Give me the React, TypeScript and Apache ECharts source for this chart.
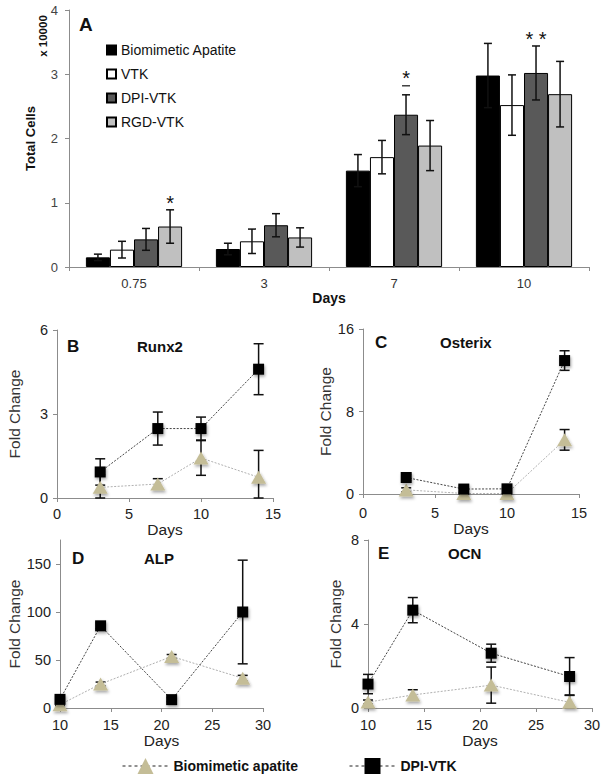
import React, { useEffect, useRef } from 'react';
import * as echarts from 'echarts';

const FONT = '"Liberation Sans", Arial, Helvetica, sans-serif';

// ---------- Panel A data ----------
const cellDays = ['0.75', '3', '7', '10'];
const barNames = ['Biomimetic Apatite', 'VTK', 'DPI-VTK', 'RGD-VTK'];
const cellsBA = [0.15, 0.28, 1.5, 2.98];
const cellsBAErr = [0.05, 0.09, 0.25, 0.5];
const cellsVTK = [0.27, 0.4, 1.71, 2.52];
const cellsVTKErr = [0.13, 0.19, 0.26, 0.47];
const cellsDPI = [0.43, 0.65, 2.37, 3.02];
const cellsDPIErr = [0.17, 0.18, 0.31, 0.42];
const cellsRGD = [0.63, 0.46, 1.89, 2.69];
const cellsRGDErr = [0.26, 0.15, 0.39, 0.51];
const cellsTicks = [0, 1, 2, 3, 4];
// significance marks: [category index, bar index, text, underline]
const sigMarks: [number, number, string, boolean][] = [
  [0, 3, '*', false],
  [2, 2, '*', true],
  [3, 2, '* *', false],
];

// ---------- qPCR data ----------
const daysEarly = [3, 7, 10, 14];
const daysLate = [10, 14, 21, 28];

const runx2DPI = [0.93, 2.48, 2.48, 4.6];
const runx2DPIErr = [0.47, 0.59, 0.41, 0.91];
const runx2BA = [0.38, 0.5, 1.43, 0.74];
const runx2BAErr = [0.45, 0.19, 0.62, 0.96];

const osxDPI = [1.6, 0.48, 0.5, 12.94];
const osxDPIErr = [0.3, 0.3, 0.2, 0.95];
const osxBA = [0.4, 0.05, 0.05, 5.25];
const osxBAErr = [0.2, 0.05, 0.05, 1.0];

const alpDPI = [9, 85.6, 8.7, 100];
const alpDPIErr = [3, 3, 2, 54];
const alpBA = [3.5, 25, 53.7, 31];
const alpBAErr = [1, 2, 2, 3];
const alpTicks = [0, 50, 100, 150];

const ocnDPI = [1.14, 4.66, 2.61, 1.5];
const ocnDPIErr = [0.46, 0.6, 0.43, 0.9];
const ocnBA = [0.28, 0.62, 1.09, 0.27];
const ocnBAErr = [0.1, 0.25, 0.86, 0.35];

const lineNames = ['Biomimetic apatite', 'DPI-VTK (qPCR)'];

// ---------- layout / style ----------
const barColors = ['#000000', '#ffffff', '#595959', '#c0c0c0'];
const grids = [
  { left: 69, top: 10, width: 520, height: 257 },
  { left: 57, top: 330, width: 216, height: 168 },
  { left: 363, top: 329, width: 216, height: 165 },
  { left: 60, top: 540, width: 203, height: 168 },
  { left: 368, top: 540, width: 224, height: 168 },
];

const panels = [
  { days: daysEarly, dpi: runx2DPI, dpiErr: runx2DPIErr, ba: runx2BA, baErr: runx2BAErr,
    x: [0, 15, 5], y: [0, 6, 3], yTicks: null as number[] | null, yGap: 35, xGap: 15, xMargin: 8,
    letter: 'B', gene: 'Runx2', lx: 67, gx: 137, ty: 346 },
  { days: daysEarly, dpi: osxDPI, dpiErr: osxDPIErr, ba: osxBA, baErr: osxBAErr,
    x: [0, 15, 5], y: [0, 16, 8], yTicks: null, yGap: 30, xGap: 21, xMargin: 11,
    letter: 'C', gene: 'Osterix', lx: 375, gx: 440, ty: 342.5 },
  { days: daysLate, dpi: alpDPI, dpiErr: alpDPIErr, ba: alpBA, baErr: alpBAErr,
    x: [10, 30, 5], y: [0, 175, 50], yTicks: alpTicks, yGap: 38, xGap: 23, xMargin: 9,
    letter: 'D', gene: 'ALP', lx: 72, gx: 144, ty: 558 },
  { days: daysLate, dpi: ocnDPI, dpiErr: ocnDPIErr, ba: ocnBA, baErr: ocnBAErr,
    x: [10, 30, 5], y: [0, 8, 4], yTicks: null, yGap: 25, xGap: 21, xMargin: 9,
    letter: 'E', gene: 'OCN', lx: 378, gx: 448, ty: 553 },
];

const AXIS_GRAY = '#8c8c8c';

function buildOption() {
  const cellVals = [cellsBA, cellsVTK, cellsDPI, cellsRGD];
  const cellErrs = [cellsBAErr, cellsVTKErr, cellsDPIErr, cellsRGDErr];

  const xAxis: any[] = [
    {
      type: 'category', gridIndex: 0, data: cellDays,
      axisLine: { lineStyle: { color: AXIS_GRAY, width: 1 } },
      axisTick: { show: true, alignWithLabel: false, length: 4, lineStyle: { color: AXIS_GRAY } },
      axisLabel: { color: '#333', fontSize: 13, fontFamily: FONT, margin: 10 },
      name: 'Days', nameLocation: 'middle', nameGap: 19,
      nameTextStyle: { fontWeight: 'bold', fontSize: 14, color: '#111', fontFamily: FONT },
    },
  ];
  const yAxis: any[] = [
    {
      type: 'value', gridIndex: 0, min: cellsTicks[0], max: cellsTicks[cellsTicks.length - 1], interval: 1,
      axisLine: { show: true, lineStyle: { color: AXIS_GRAY } },
      axisTick: { show: true, length: 4, lineStyle: { color: AXIS_GRAY } },
      splitLine: { show: false },
      axisLabel: { color: '#444', fontSize: 13, fontFamily: FONT, margin: 11 },
      name: 'Total Cells', nameLocation: 'middle', nameGap: 32,
      nameTextStyle: { fontWeight: 'bold', fontSize: 13, color: '#111', fontFamily: FONT },
    },
  ];

  const series: any[] = [];
  barNames.forEach((n, i) => {
    series.push({
      type: 'bar', name: n, xAxisIndex: 0, yAxisIndex: 0,
      data: cellVals[i], barWidth: '18.5%', barGap: '0%',
      itemStyle: { color: barColors[i], borderColor: '#000', borderWidth: 1 },
      z: 2,
    });
  });

  const errData: number[][] = [];
  barNames.forEach((_, i) => {
    cellDays.forEach((_, j) => errData.push([j, cellVals[i][j], cellErrs[i][j], i]));
  });

  series.push({
    type: 'custom', xAxisIndex: 0, yAxisIndex: 0, z: 5,
    data: errData,
    renderItem: (params: any, api: any) => {
      const cat = api.value(0), v = api.value(1), e = api.value(2), bi = api.value(3);
      const band = api.size([1, 0])[0];
      const bw = band * 0.185;
      const c = api.coord([cat, v]);
      const x = c[0] + (bi - 1.5) * bw;
      const yt = api.coord([cat, v + e])[1];
      const yb = api.coord([cat, Math.max(0, v - e)])[1];
      const st = { stroke: '#111', lineWidth: 1.5 };
      const children: any[] = [
        { type: 'line', shape: { x1: x, y1: yt, x2: x, y2: yb }, style: st },
        { type: 'line', shape: { x1: x - 4, y1: yt, x2: x + 4, y2: yt }, style: st },
        { type: 'line', shape: { x1: x - 4, y1: yb, x2: x + 4, y2: yb }, style: st },
      ];
      sigMarks.forEach(([sc, sb, txt, under]) => {
        if (sc === cat && sb === bi) {
          const ty = under ? yt - 17 : yt - 7;
          children.push({
            type: 'text',
            style: { text: txt, x, y: ty, textAlign: 'center', textVerticalAlign: 'middle',
              fontSize: 20, fontFamily: FONT, fill: '#111' },
          });
          if (under) {
            children.push({ type: 'line', shape: { x1: x - 4, y1: yt - 9, x2: x + 4, y2: yt - 9 }, style: { stroke: '#111', lineWidth: 1.2 } });
          }
        }
      });
      return { type: 'group', children };
    },
  });

  const graphic: any[] = [
    { type: 'text', x: 79, y: 24.5, style: { text: 'A', fontSize: 19, fontWeight: 'bold', fontFamily: FONT, fill: '#111', textVerticalAlign: 'middle' } },
    { type: 'text', x: 43, y: 36, rotation: Math.PI / 2, style: { text: 'x 10000', fontSize: 11.5, fontWeight: 'bold', fontFamily: FONT, fill: '#111', textAlign: 'center', textVerticalAlign: 'middle' } },
  ];

  panels.forEach((p, k) => {
    const gi = k + 1;
    xAxis.push({
      type: 'value', gridIndex: gi, min: p.x[0], max: p.x[1], interval: p.x[2],
      axisLine: { show: true, onZero: false, lineStyle: { color: AXIS_GRAY } },
      axisTick: { show: true, length: 4, lineStyle: { color: AXIS_GRAY } },
      splitLine: { show: false },
      axisLabel: { color: '#222', fontSize: 14.5, fontFamily: FONT, margin: p.xMargin },
      name: 'Days', nameLocation: 'middle', nameGap: p.xGap,
      nameTextStyle: { fontSize: 15.5, color: '#222', fontFamily: FONT },
    });
    const ya: any = {
      type: 'value', gridIndex: gi, min: p.y[0], max: p.y[1], interval: p.y[2],
      axisLine: { show: true, lineStyle: { color: AXIS_GRAY } },
      axisTick: { show: true, length: 4, lineStyle: { color: AXIS_GRAY } },
      splitLine: { show: false },
      axisLabel: { color: '#222', fontSize: 14.5, fontFamily: FONT, margin: 9 },
      name: 'Fold Change', nameLocation: 'middle', nameGap: p.yGap,
      nameTextStyle: { fontSize: 15.5, color: '#333', fontFamily: FONT },
    };
    if (p.yTicks) {
      ya.axisLabel.customValues = p.yTicks;
      ya.axisTick.customValues = p.yTicks;
    }
    yAxis.push(ya);

    const errRender = (params: any, api: any) => {
      const xv = api.value(0), v = api.value(1), e = api.value(2);
      const x = api.coord([xv, v])[0];
      const yt = api.coord([xv, v + e])[1];
      const yb = api.coord([xv, Math.max(p.y[0], v - e)])[1];
      const st = { stroke: '#111', lineWidth: 1.5 };
      return {
        type: 'group', children: [
          { type: 'line', shape: { x1: x, y1: yt, x2: x, y2: yb }, style: st },
          { type: 'line', shape: { x1: x - 5, y1: yt, x2: x + 5, y2: yt }, style: st },
          { type: 'line', shape: { x1: x - 5, y1: yb, x2: x + 5, y2: yb }, style: st },
        ],
      };
    };

    series.push({
      type: 'custom', xAxisIndex: gi, yAxisIndex: gi, z: 1,
      data: p.days.map((d, i) => [d, p.ba[i], p.baErr[i]]),
      renderItem: errRender,
    });
    series.push({
      type: 'custom', xAxisIndex: gi, yAxisIndex: gi, z: 1,
      data: p.days.map((d, i) => [d, p.dpi[i], p.dpiErr[i]]),
      renderItem: errRender,
    });
    series.push({
      type: 'line', name: lineNames[0], xAxisIndex: gi, yAxisIndex: gi, z: 3,
      data: p.days.map((d, i) => [d, p.ba[i]]),
      symbol: 'triangle', symbolSize: [15, 13],
      lineStyle: { color: '#b0b0b0', width: 1, type: [2, 1.5] },
      itemStyle: { color: '#c4bd97', shadowColor: 'rgba(0,0,0,0.35)', shadowBlur: 3, shadowOffsetX: 1, shadowOffsetY: 2 },
    });
    series.push({
      type: 'line', name: lineNames[1], xAxisIndex: gi, yAxisIndex: gi, z: 4,
      data: p.days.map((d, i) => [d, p.dpi[i]]),
      symbol: 'rect', symbolSize: 11,
      lineStyle: { color: '#444', width: 1, type: [2, 1.5] },
      itemStyle: { color: '#000', shadowColor: 'rgba(0,0,0,0.35)', shadowBlur: 3, shadowOffsetX: 1, shadowOffsetY: 2 },
    });

    graphic.push({ type: 'text', x: p.lx, y: p.ty, style: { text: p.letter, fontSize: 17, fontWeight: 'bold', fontFamily: FONT, fill: '#111', textVerticalAlign: 'middle' } });
    graphic.push({ type: 'text', x: p.gx, y: p.ty, style: { text: p.gene, fontSize: 15, fontWeight: 'bold', fontFamily: FONT, fill: '#111', textVerticalAlign: 'middle' } });
  });

  const legendFmt = (name: string) => name.replace(' (qPCR)', '');

  return {
    animation: false,
    backgroundColor: '#ffffff',
    grid: grids,
    xAxis,
    yAxis,
    series,
    graphic,
    legend: [
      {
        data: barNames, orient: 'vertical', left: 101, top: 38,
        itemWidth: 9, itemHeight: 9, itemGap: 10, icon: 'rect',
        textStyle: { fontSize: 14, color: '#111', fontFamily: FONT, lineHeight: 14 },
        selectedMode: false,
      },
      {
        data: [lineNames[0]], left: 117, top: 753,
        itemWidth: 46, itemHeight: 20, itemGap: 4, selectedMode: false,
        lineStyle: { color: '#222', type: [3, 3], width: 1 },
        textStyle: { fontSize: 14, fontWeight: 'bold', color: '#111', fontFamily: FONT },
        formatter: legendFmt,
      },
      {
        data: [lineNames[1]], left: 344, top: 753,
        itemWidth: 46, itemHeight: 20, selectedMode: false,
        lineStyle: { color: '#222', type: [3, 3], width: 1 },
        textStyle: { fontSize: 14, fontWeight: 'bold', color: '#111', fontFamily: FONT },
        formatter: legendFmt,
      },
    ],
  };
}

export default function App() {
  const ref = useRef<HTMLDivElement>(null);
  useEffect(() => {
    document.body.style.margin = '0';
    if (!ref.current) return;
    const chart = echarts.init(ref.current, undefined, { renderer: 'svg' });
    chart.setOption(buildOption() as any);
    return () => chart.dispose();
  }, []);
  return <div ref={ref} style={{ width: 604, height: 780 }} />;
}
